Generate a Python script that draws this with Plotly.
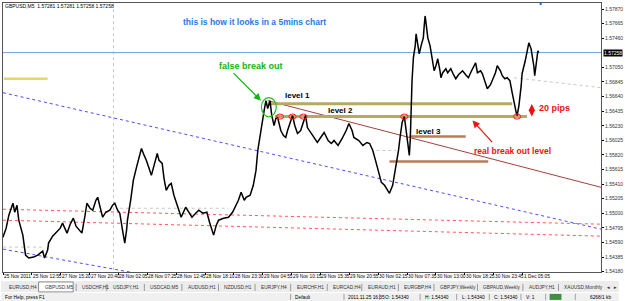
import plotly.graph_objects as go

# ---------------- data ----------------
bar_idx = [0,7,13,22,26,31,35,44,50,57,68,77,88,92,99,101,110,118,127,132,138,142,149,156,162,169,175,182,186,193,199,206,210,217,221,228,237,243,248,254,259,265,270,274,276,283,289,296,302,307,313,318,324,329,335,342,346,353,357,362,368,373,379,384,390,395,401,405,412,419,425,434,443,452,458,467,473,478,489,500,509,515,522,528,535,539,548,555,561,565,570,574,579,583,587,592,596,601,605,609,614,616,622,627,631,636,642,647,653,660,666,671,675,682,690,697,706,712,721,728,734,743,752,761,767,774,778,789,798,807,813,820,826,833,839,846,853,857,864,868,872,877,881,885,890,894,899,901,903,905,907,910,914,916,921,923,927,932,934,936,938,942,947,949,953,956,960,964,969,971,975,982,986,993,999,1004,1010,1019,1026,1032,1039,1048,1052,1059,1063,1070,1074,1081,1085,1092,1096,1103,1107,1113,1118,1124,1129,1133,1138,1140,1144,1149,1151,1158,1162,1166,1171,1173,1177,1179,1184,1186,1188]
close = [1.54665,1.54791,1.54973,1.55141,1.55015,1.55113,1.54903,1.54693,1.54413,1.54371,1.54385,1.54413,1.54469,1.54371,1.54483,1.54581,1.54679,1.54735,1.54791,1.54861,1.54763,1.54721,1.54847,1.54931,1.54819,1.54763,1.54721,1.54973,1.55141,1.55071,1.55043,1.55183,1.55225,1.55043,1.54945,1.55015,1.55043,1.55113,1.55141,1.55043,1.55001,1.54763,1.54581,1.54763,1.54903,1.55183,1.55463,1.55645,1.55813,1.55911,1.55813,1.55743,1.55631,1.55533,1.55673,1.55841,1.55743,1.55701,1.55491,1.55323,1.55393,1.55421,1.55253,1.55141,1.55043,1.54945,1.55043,1.55085,1.55015,1.54945,1.54987,1.55043,1.55001,1.55015,1.54875,1.54693,1.54833,1.54903,1.54931,1.54945,1.55015,1.55085,1.55183,1.55295,1.55183,1.55225,1.55253,1.55393,1.55603,1.55883,1.56093,1.56303,1.56443,1.56583,1.56471,1.56583,1.56373,1.56233,1.56331,1.56345,1.56233,1.56163,1.56093,1.56065,1.56163,1.56275,1.56373,1.56233,1.56121,1.56163,1.56275,1.56373,1.56205,1.56135,1.56051,1.55995,1.56079,1.56135,1.56023,1.55981,1.56023,1.55953,1.56051,1.56163,1.56261,1.56163,1.56065,1.56023,1.55953,1.55995,1.55981,1.55883,1.55743,1.55575,1.55435,1.55393,1.55323,1.55281,1.55393,1.55533,1.55673,1.55883,1.56093,1.56275,1.56359,1.56163,1.55953,1.55813,1.56023,1.56583,1.56863,1.57185,1.57353,1.57521,1.57353,1.57241,1.57353,1.57465,1.57633,1.57773,1.57675,1.57465,1.57353,1.57283,1.57115,1.57003,1.57073,1.57171,1.57003,1.56905,1.56975,1.57031,1.56975,1.57031,1.56947,1.56891,1.56947,1.57003,1.56947,1.56905,1.57003,1.57115,1.56975,1.57003,1.56961,1.56835,1.56751,1.56807,1.56863,1.56975,1.57073,1.57003,1.56933,1.56891,1.56905,1.56863,1.56695,1.56555,1.56415,1.56373,1.56513,1.56793,1.56961,1.57143,1.57283,1.57395,1.57311,1.57241,1.57073,1.56933,1.57143,1.57283,1.57258]

current_price = 1.57258
price_ticks = [1.54180,1.54385,1.54590,1.54795,1.55000,1.55205,1.55410,1.55615,1.55820,1.56025,1.56230,1.56435,1.56640,1.56845,1.57050,1.57460,1.57665,1.57870]
date_labels = ["25 Nov 2011","25 Nov 12:55","27 Nov 15:20","27 Nov 20:40","28 Nov 02:05","28 Nov 07:25","28 Nov 12:45","28 Nov 18:10","28 Nov 23:30","29 Nov 04:55","29 Nov 10:15","29 Nov 15:35","29 Nov 20:55","30 Nov 02:15","30 Nov 07:35","30 Nov 13:00","30 Nov 18:25","30 Nov 23:45","1 Dec 05:05"]
date_bars = [i * 64 for i in range(len(date_labels))]

level1 = 1.56541
level2 = 1.56359
level3 = 1.56079
level_low = 1.55729
yellow_level = 1.56891
blue_trend_hi = [(0, 1.56695), (1326, 1.54777)]
blue_trend_lo = [(0, 1.54497), (320, 1.54130)]
red_dot_a = [(0, 1.55057), (1326, 1.54847)]
red_dot_b = [(0, 1.54903), (1326, 1.54679)]
red_trend = [(587, 1.56583), (1326, 1.55365)]
breakout_touches = [614, 642, 666, 890, 1140]
false_break_bar = 590

tabs = ["EURUSD,H4","GBPUSD,M5","USDCHF,H1","USDJPY,H1","USDCAD,M5","AUDUSD,H1","NZDUSD,H1","EURJPY,H4","EURCHF,H1","EURCAD,H4","EURAUD,H1","EURGBP,H4","GBPJPY,Weekly","GBPAUD,Weekly","AUDJPY,H1","XAUUSD,Monthly"]
tab_x = [7,43,81,112,150,188,225,262,298,335,370,407,443,487,533,569]
status_items = [("For Help, press F1",3),("Default",296),("2011.11.25 16:35",350),("O: 1.54340",387),("H: 1.54340",428),("L: 1.54340",465),("C: 1.54340",498),("V: 1",530),("6268/1 kb",595)]
status_seps = [293,347,383,424,461,494,526,551,581]

# --------------- figure ---------------
W, H = 625, 301
ML, MR, MT, MB = 2, 18, 2, 29
PW, PH = W - ML - MR, H - MT - MB
def pxx(x): return (x - ML) / PW
def pyy(y): return (H - MB - y) / PH

FONT = "Liberation Sans, Arial, sans-serif"
fig = go.Figure()

def seg(pts, color, width, dash="solid"):
    fig.add_trace(go.Scatter(x=[p[0] for p in pts], y=[p[1] for p in pts], mode="lines",
                             line=dict(color=color, width=width, dash=dash),
                             hoverinfo="skip", showlegend=False))

# background guides
seg([(0, 1.54525), (94, 1.54525)], "#c8c8c8", 1, "dot")
seg([(259, 1.55071), (500, 1.55071)], "#c8c8c8", 1, "dot")
seg([(828, 1.55883), (872, 1.55883)], "#c8c8c8", 1, "dot")
seg([(1133, 1.56905), (1326, 1.56765)], "#c8c8c8", 1, "dot")
seg([(245, 1.5420), (245, 1.5795)], "#c8c8c8", 1, "dot")
seg([(0, current_price), (1326, current_price)], "#72a0d0", 1)
seg([(2, yellow_level), (99, yellow_level)], "#e6d66e", 2.5)
seg(blue_trend_hi, "#4c4cff", 1, "dot")
seg(blue_trend_lo, "#4c4cff", 1, "dot")
seg(red_dot_a, "#ff5a5a", 1, "dot")
seg(red_dot_b, "#ff5a5a", 1, "dot")
seg(red_trend, "#a3423e", 1)
seg([(587, level1), (1129, level1)], "#b5aa60", 3)
seg([(603, level2), (1162, level2)], "#b5aa60", 3)
seg([(901, level3), (1026, level3)], "#b97b58", 2.5)
seg([(857, level_low), (1076, level_low)], "#b97b58", 2.5)

# price
fig.add_trace(go.Scatter(x=bar_idx, y=close, mode="lines", line=dict(color="#000000", width=1.5),
                         hoverinfo="skip", showlegend=False))

shapes = []
for b in breakout_touches:
    shapes.append(dict(type="circle", xref="x", yref="y", x0=b - 8, x1=b + 8,
                       y0=level2 - 0.00036, y1=level2 + 0.00036, line=dict(color="#ff1a1a", width=1)))
shapes.append(dict(type="circle", xref="x", yref="y", x0=false_break_bar - 17, x1=false_break_bar + 16,
                   y0=1.56359, y1=1.56625, line=dict(color="#22c022", width=1.2)))

# chrome: tab strip and status bar
shapes.append(dict(type="rect", xref="paper", yref="paper", x0=pxx(0), x1=pxx(W), y0=pyy(281), y1=pyy(292),
                   fillcolor="#ececec", line=dict(width=0), layer="below"))
shapes.append(dict(type="rect", xref="paper", yref="paper", x0=pxx(38), x1=pxx(73), y0=pyy(282), y1=pyy(292),
                   fillcolor="#ffffff", line=dict(color="#8a8a8a", width=1), layer="below"))
shapes.append(dict(type="rect", xref="paper", yref="paper", x0=pxx(0), x1=pxx(W), y0=pyy(293), y1=pyy(301),
                   fillcolor="#f0f0f0", line=dict(width=0), layer="below"))
for i in range(2, len(tab_x)):
    xs = tab_x[i] - 5
    shapes.append(dict(type="line", xref="paper", yref="paper", x0=pxx(xs), x1=pxx(xs), y0=pyy(284), y1=pyy(291),
                       line=dict(color="#9a9a9a", width=1)))
for xs in status_seps:
    shapes.append(dict(type="line", xref="paper", yref="paper", x0=pxx(xs), x1=pxx(xs), y0=pyy(294), y1=pyy(300),
                       line=dict(color="#a0a0a0", width=1)))
shapes.append(dict(type="rect", xref="paper", yref="paper", x0=pxx(555), x1=pxx(567), y0=pyy(294), y1=pyy(300),
                   fillcolor="#3f8f3f", line=dict(width=0)))
# small marker at top of chart
shapes.append(dict(type="rect", xref="paper", yref="paper", x0=pxx(545), x1=pxx(547), y0=pyy(4), y1=pyy(1.5),
                   fillcolor="#1e6fd0", line=dict(width=0)))

ann = []
def text(x, y, s, size, color, bold=False, xanchor="center", xref="x", yref="y"):
    ann.append(dict(x=x, y=y, xref=xref, yref=yref, text=("<b>%s</b>" % s) if bold else s, showarrow=False,
                    font=dict(family=FONT, size=size, color=color), xanchor=xanchor, yanchor="middle",
                    borderpad=0))

text(pxx(3), pyy(5.5), "GBPUSD,M5  1.57281 1.57281 1.57258 1.57258", 5, "#000000", xanchor="left", xref="paper", yref="paper")
text(pxx(256), pyy(21), "this is how it looks in a 5mins chart", 8.5, "#1e7be6", True, xref="paper", yref="paper")
text(pxx(253), pyy(65), "false break out", 9, "#14b414", True, xref="paper", yref="paper")
text(pxx(300), pyy(95), "level 1", 8, "#000000", True, xref="paper", yref="paper")
text(pxx(343), pyy(110), "level 2", 8, "#000000", True, xref="paper", yref="paper")
text(pxx(432), pyy(131), "level 3", 8, "#000000", True, xref="paper", yref="paper")
text(pxx(517), pyy(151), "real break out level", 8.5, "#ee1111", True, xref="paper", yref="paper")
text(pxx(560), pyy(107), "20 pips", 9, "#ee1111", True, xref="paper", yref="paper")

# arrows
ann.append(dict(x=pxx(263), y=pyy(100), xref="paper", yref="paper", text="", showarrow=True, ax=-29, ay=-29,
                arrowhead=2, arrowsize=1.2, arrowwidth=1.2, arrowcolor="#14b414"))
ann.append(dict(x=pxx(477), y=pyy(120), xref="paper", yref="paper", text="", showarrow=True, ax=21, ay=23,
                arrowhead=2, arrowsize=1.2, arrowwidth=1.2, arrowcolor="#ee1111"))
ann.append(dict(x=pxx(537), y=pyy(116), xref="paper", yref="paper", text="", showarrow=True, ax=0, ay=-14,
                arrowhead=2, startarrowhead=2, arrowside="end+start", arrowsize=1, arrowwidth=1.3,
                arrowcolor="#ee1111"))

# date labels
for b, s in zip(date_bars, date_labels):
    ann.append(dict(x=b, y=pyy(277), xref="x", yref="paper", text=s, showarrow=False, xanchor="left",
                    yanchor="middle", borderpad=0, font=dict(family=FONT, size=4.8, color="#000000")))
# current price tag
ann.append(dict(x=pxx(609), y=current_price, xref="paper", yref="y", text="%.5f" % current_price, showarrow=False,
                xanchor="left", yanchor="middle", bgcolor="#000000", borderpad=0,
                font=dict(family=FONT, size=5, color="#ffffff")))
# tabs and status
for s, x in zip(tabs, tab_x):
    text(pxx(x), pyy(287.5), s, 4.8, "#333333", xanchor="left", xref="paper", yref="paper")
text(pxx(611), pyy(287.5), "◄  ►", 4.5, "#333333", xanchor="left", xref="paper", yref="paper")
for s, x in status_items:
    text(pxx(x), pyy(297.5), s, 4.8, "#000000", xanchor="left", xref="paper", yref="paper")

fig.update_layout(
    width=W, height=H, margin=dict(l=ML, r=MR, t=MT, b=MB),
    paper_bgcolor="#ffffff", plot_bgcolor="#ffffff",
    shapes=shapes, annotations=ann, showlegend=False,
    xaxis=dict(range=[0, 1326], showgrid=False, zeroline=False, showticklabels=False,
               ticks="outside", tickvals=date_bars, ticklen=2, tickcolor="#000000",
               showline=True, linecolor="#555555", linewidth=1, mirror=True),
    yaxis=dict(range=[1.54175, 1.57955], side="right", showgrid=False, zeroline=False,
               tickvals=price_ticks, ticktext=["%.5f" % v for v in price_ticks],
               ticks="outside", ticklen=2, tickcolor="#000000",
               tickfont=dict(family=FONT, size=5, color="#333333"),
               showline=True, linecolor="#555555", linewidth=1, mirror=True),
)
fig.write_html("out.html")
